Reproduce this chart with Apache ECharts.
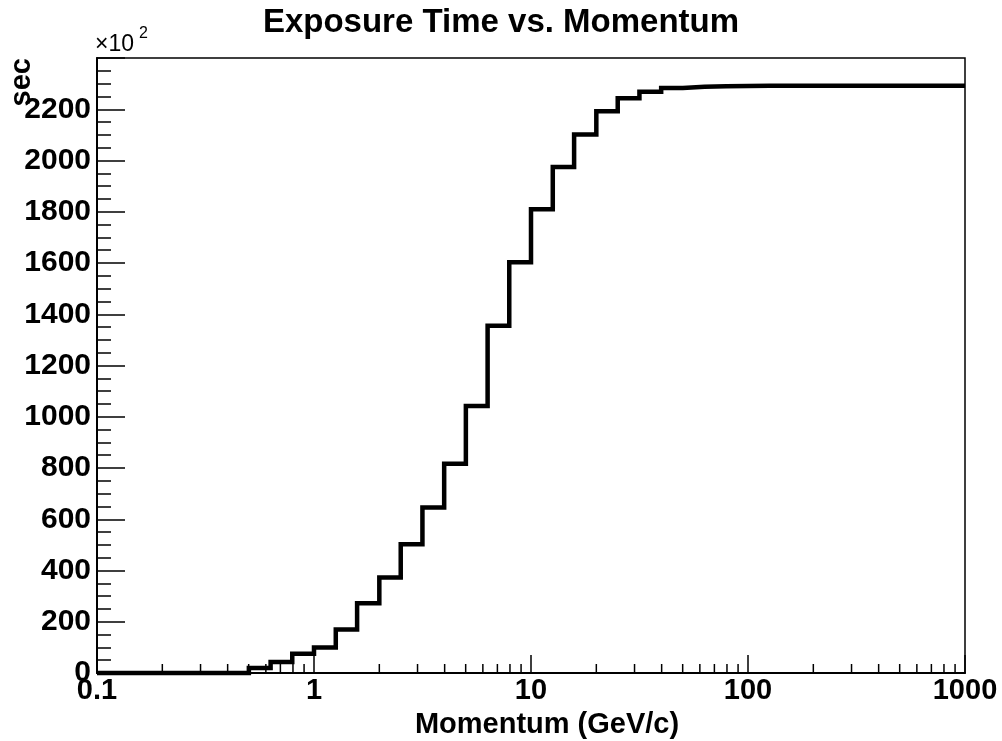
<!DOCTYPE html>
<html>
<head>
<meta charset="utf-8">
<script src="https://cdn.jsdelivr.net/npm/echarts@6/dist/echarts.min.js"></script>
<style>
  html, body { margin: 0; padding: 0; background: #fff; }
  #chart { width: 1002px; height: 741px; }
</style>
</head>
<body>
<div id="chart"></div>
<script>
// Momentum bin edges in GeV/c (10 log-spaced bins per decade, 0.1 .. 1000)
const binEdges = [
  0.1, 0.126, 0.158, 0.2, 0.251, 0.316, 0.398, 0.501, 0.631, 0.794,
  1, 1.26, 1.58, 2, 2.51, 3.16, 3.98, 5.01, 6.31, 7.94,
  10, 12.6, 15.8, 20, 25.1, 31.6, 39.8, 50.1, 63.1, 79.4,
  100, 126, 158, 200, 251, 316, 398, 501, 631, 794,
  1000
];

// Exposure time per bin, in units of 10^2 sec
const exposure = [
  0, 0, 0, 0, 0, 0, 0, 20, 43, 75,
  100, 170, 272, 373, 502, 646, 817, 1042, 1355, 1603,
  1810, 1975, 2101, 2192, 2243, 2268, 2283, 2288, 2290, 2291,
  2292, 2292, 2292, 2292, 2292, 2292, 2292, 2292, 2292, 2292
];

// Decade labels and intermediate log ticks on the momentum axis
const xTickLabels = [0.1, 1, 10, 100, 1000];
const xMinorTicks = [
  0.2, 0.3, 0.4, 0.5, 0.6, 0.7, 0.8, 0.9,
  2, 3, 4, 5, 6, 7, 8, 9,
  20, 30, 40, 50, 60, 70, 80, 90,
  200, 300, 400, 500, 600, 700, 800, 900
];
const yTickStep = 200;

const FONT = '"Liberation Sans", Arial, Helvetica, sans-serif';

// Step outline: each bin's lower edge with its content, closed at the last upper edge
const stepData = binEdges.map((edge, i) => [edge, exposure[Math.min(i, exposure.length - 1)]]);

const chart = echarts.init(document.getElementById('chart'), null, { renderer: 'canvas' });

chart.setOption({
  animation: false,
  backgroundColor: '#ffffff',
  title: {
    text: 'Exposure Time vs. Momentum',
    left: 'center',
    top: 1,
    textStyle: { fontFamily: FONT, fontWeight: 'bold', fontSize: 33, color: '#000' }
  },
  grid: {
    left: 97, right: 37, top: 58, bottom: 68,
    outerBoundsMode: 'none',
    containLabel: false,
    show: true, borderColor: '#000', borderWidth: 1.5, backgroundColor: 'transparent'
  },
  xAxis: {
    type: 'log',
    logBase: 10,
    min: xTickLabels[0],
    max: xTickLabels[xTickLabels.length - 1],
    name: 'Momentum (GeV/c)',
    nameLocation: 'middle',
    nameGap: 37,
    nameTextStyle: { fontFamily: FONT, fontWeight: 'bold', fontSize: 29, color: '#000', padding: [0, 0, 0, 32] },
    axisLine: { show: true, onZero: false, lineStyle: { color: '#000', width: 2 } },
    axisTick: { show: true, inside: true, length: 18, lineStyle: { color: '#000', width: 1.5 } },
    axisLabel: {
      fontFamily: FONT, fontWeight: 'bold', fontSize: 29, color: '#000', margin: 3,
      formatter: v => String(+Number(v).toPrecision(3))
    },
    splitLine: { show: false }
  },
  yAxis: {
    type: 'value',
    min: 0,
    max: 2400,
    interval: yTickStep,
    axisLine: { show: true, lineStyle: { color: '#000', width: 2 } },
    axisTick: { show: true, inside: true, length: 28, lineStyle: { color: '#000', width: 1.5 } },
    minorTick: { show: true, splitNumber: 4, length: 14, lineStyle: { color: '#000', width: 1.5 } },
    axisLabel: {
      fontFamily: FONT, fontWeight: 'bold', fontSize: 30, color: '#000', margin: 6,
      showMaxLabel: false,
      formatter: v => String(v)
    },
    splitLine: { show: false },
    minorSplitLine: { show: false }
  },
  series: [
    {
      name: 'exposure',
      type: 'line',
      step: 'end',
      data: stepData,
      symbol: 'none',
      clip: false,
      lineStyle: { color: '#000', width: 4.5, join: 'miter', cap: 'butt' },
      z: 3
    },
    {
      name: 'minorTicks',
      type: 'custom',
      data: xMinorTicks.map(v => [v, 0]),
      silent: true,
      clip: false,
      z: 2,
      renderItem: (params, api) => {
        const p = api.coord([api.value(0), 0]);
        return {
          type: 'line',
          shape: { x1: p[0], y1: p[1], x2: p[0], y2: p[1] - 9 },
          style: { stroke: '#000', lineWidth: 1.5 }
        };
      }
    }
  ],
  graphic: [
    {
      type: 'text',
      x: 22, y: 58,
      rotation: Math.PI / 2,
      style: {
        text: 'sec', fill: '#000',
        font: 'bold 29px ' + FONT,
        align: 'right', verticalAlign: 'middle'
      }
    },
    {
      type: 'text',
      x: 95, y: 45,
      style: {
        text: '×10', fill: '#000',
        font: '23px ' + FONT,
        align: 'left', verticalAlign: 'middle'
      }
    },
    {
      type: 'text',
      x: 139, y: 34,
      style: {
        text: '2', fill: '#000',
        font: '16px ' + FONT,
        align: 'left', verticalAlign: 'middle'
      }
    }
  ]
});
</script>
</body>
</html>
